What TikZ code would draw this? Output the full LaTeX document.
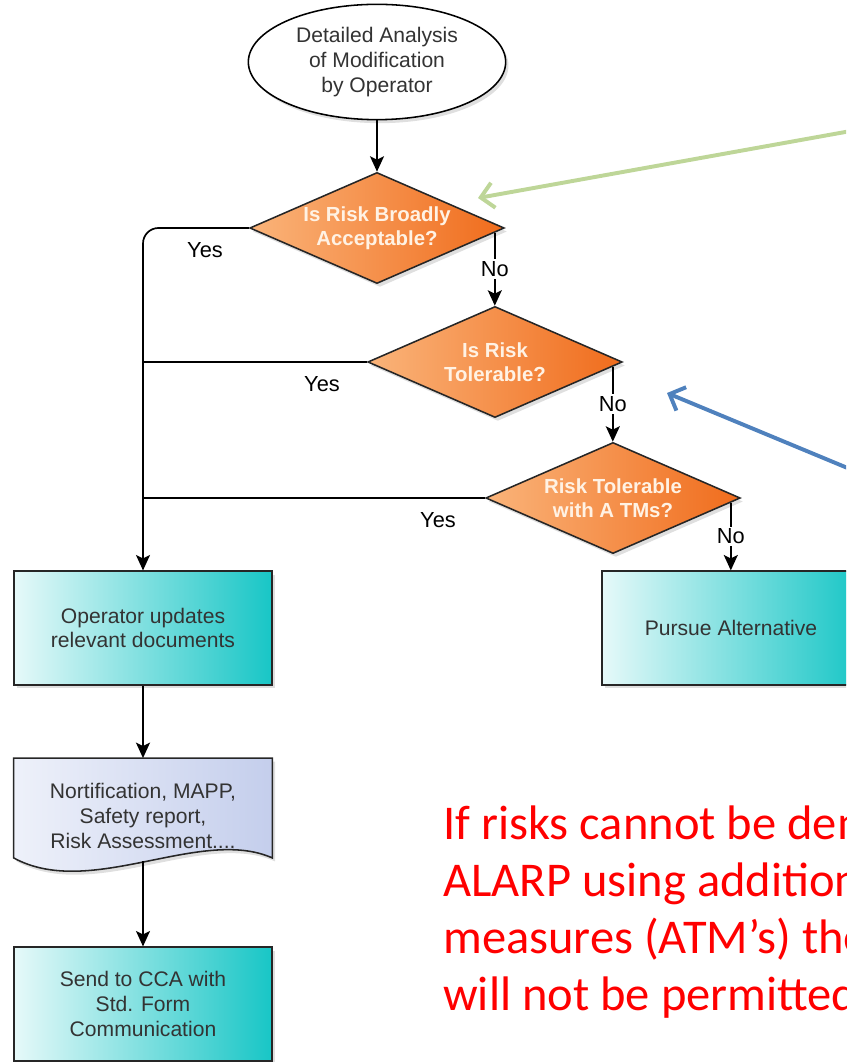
\documentclass[tikz,border=0pt]{standalone}
\usepackage{fontspec}
\setmainfont{Liberation Sans}
\newfontfamily\noteFont{Carlito}
\usetikzlibrary{shapes.geometric,arrows.meta,calc,shadows,backgrounds}
\definecolor{boxL}{RGB}{230,249,249}
\definecolor{boxR}{RGB}{24,198,198}
\definecolor{decL}{RGB}{250,180,122}
\definecolor{decR}{RGB}{240,108,28}
\definecolor{decText}{RGB}{255,242,228}
\definecolor{docL}{RGB}{238,241,250}
\definecolor{docR}{RGB}{196,206,236}
\definecolor{calloutGreen}{RGB}{190,214,152}
\definecolor{calloutBlue}{RGB}{79,129,189}
\definecolor{noteRed}{RGB}{255,0,0}
\tikzset{
  flowfont/.style={font=\fontsize{15}{17.5}\selectfont, text=black!80},
  softshadow/.style={drop shadow={opacity=0.25, shadow xshift=2pt, shadow yshift=-2.5pt}},
  procbox/.style={rectangle, draw=black!85, line width=1.1pt, left color=boxL, right color=boxR,
    minimum width=183.5pt, minimum height=80.8pt, align=center, flowfont, softshadow},
  decision/.style={diamond, aspect=2.28, draw=black!85, line width=1.1pt, left color=decL, right color=decR,
    minimum width=181pt, minimum height=79pt, inner sep=0pt, align=center,
    font=\fontsize{14.5}{17}\selectfont\bfseries, text=decText, softshadow},
  termin/.style={ellipse, draw=black, line width=1.1pt, fill=white,
    minimum width=183pt, minimum height=82pt, align=center, flowfont, softshadow},
  flow/.style={line width=1.2pt, -{Stealth[length=11pt,width=10pt,inset=2.5pt]}},
  branch/.style={line width=1.2pt},
  answer/.style={font=\fontsize{15.5}{17}\selectfont, inner sep=1.5pt},
  callout/.style={line width=2.8pt, -{Straight Barb[length=9pt,width=18pt]}},
}
\begin{document}
\begin{tikzpicture}[x=0.025cm, y=0.025cm]
\useasboundingbox (0,0) rectangle (846,-1062);
\clip (0,0) rectangle (846,-1062);
% nodes
\node[termin] (start) at (377,-62) {Detailed Analysis\\of Modification\\by Operator};
\node[decision] (d1) at (377,-228) {Is Risk Broadly\\Acceptable?};
\node[decision] (d2) at (495,-362) {Is Risk\\Tolerable?};
\node[decision] (d3) at (613,-498) {Risk Tolerable\\with A TMs?};
\node[procbox] (update) at (143,-628) {Operator updates\\relevant documents};
\node[procbox] (alt) at (731,-628) {Pursue Alternative};
\node[flowfont, minimum width=183.5pt, minimum height=82pt, align=center] (docs) at (143,-816)
  {Nortification, MAPP,\\Safety report,\\Risk Assessment....};
\node[procbox] (cca) at (143,-1004) {Send to CCA with\\Std. Form\\Communication};
% document shape
\begin{pgfonlayer}{background}
  \path[draw=black!85, line width=1.1pt, left color=docL, right color=docR, softshadow]
    (docs.north west) -- (docs.north east) -- ($(docs.south east)+(0,16)$)
    .. controls ($(docs.south east)+(-72,48)$) and ($(docs.south west)+(77,-26)$) .. ($(docs.south west)+(0,16)$)
    -- cycle;
\end{pgfonlayer}
% yes branches
\draw[flow, rounded corners=11pt] (d1.west) -| (update.north);
\draw[branch] (d2.west) -- (d2.west -| update.north);
\draw[branch] (d3.west) -- (d3.west -| update.north);
\node[answer] (yes1) at (205,-250) {Yes};
\node[answer] (yes2) at (322,-384) {Yes};
\node[answer] (yes3) at (438,-520) {Yes};
% no branches
\coordinate (d1no) at ($(d1.east)!0.08!(d1.south)$);
\coordinate (d2no) at ($(d2.east)!0.08!(d2.south)$);
\coordinate (d3no) at ($(d3.east)!0.08!(d3.south)$);
\draw[flow] (d1no) -- (d1no |- d2.north) node[midway, answer, fill=white] (no1) {No};
\draw[flow] (d2no) -- (d2no |- d3.north) node[midway, answer, fill=white] (no2) {No};
\draw[flow] (d3no) -- (d3no |- alt.north) node[midway, answer, fill=white] (no3) {No};
% main column
\draw[flow] (start) -- (d1);
\draw[flow] (update) -- (docs.north);
\coordinate (docend) at ($(docs.south)+(0,13)$);
\draw[flow] (docend) -- (cca.north);
% callouts
\coordinate (gstart) at (862,-129);
\coordinate (gtip) at (478,-198);
\coordinate (bstart) at (862,-474);
\coordinate (btip) at (667,-393);
\draw[callout, calloutGreen] (gstart) -- (gtip);
\draw[callout, calloutBlue] (bstart) -- (btip);
% note
\node[anchor=north west, inner sep=0pt, align=left, text=noteRed,
  font=\noteFont\fontsize{34.5}{40.5}\selectfont] (note) at (443,-806)
  {If risks cannot be demonstrated\\ALARP using additional\\measures (ATM’s) then\\will not be permitted};
\end{tikzpicture}
\end{document}
